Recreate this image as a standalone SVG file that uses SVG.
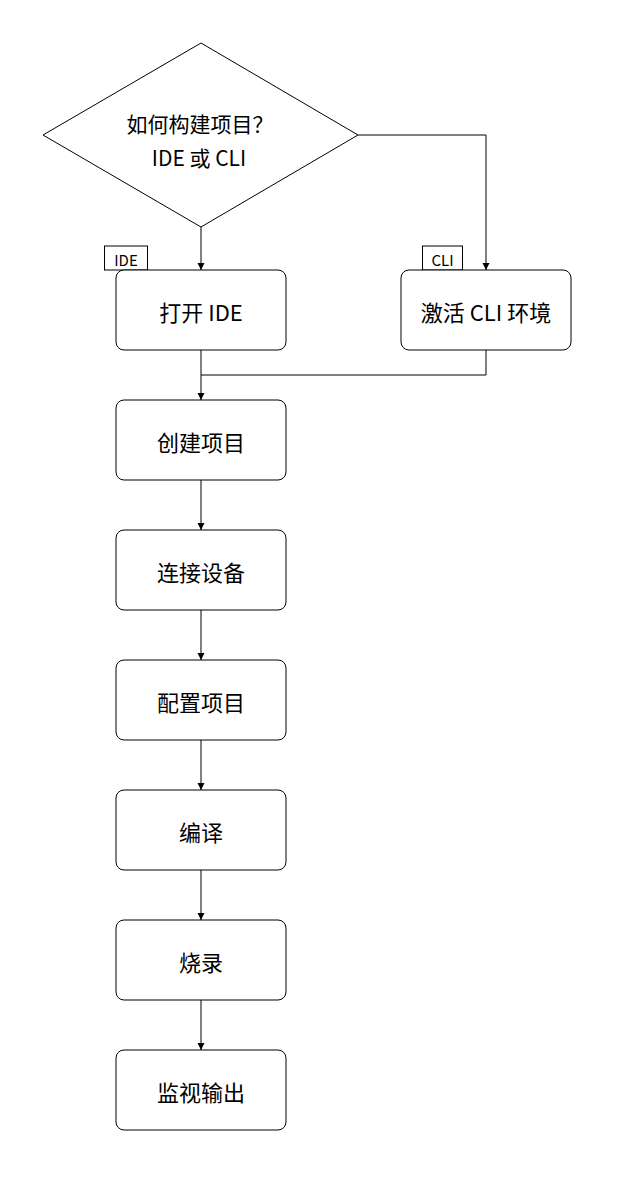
<svg xmlns="http://www.w3.org/2000/svg" width="620" height="1180" viewBox="0 0 620 1180">
<style>
.n{fill:#fff;stroke:#000;stroke-width:1}
.t{font-family:"Noto Sans CJK SC","Noto Sans",sans-serif;font-size:22px;fill:#000;text-anchor:middle;dominant-baseline:central}
.d{font-size:21px}
.l{font-family:"Noto Sans CJK SC","Noto Sans",sans-serif;font-size:15px;fill:#000;text-anchor:middle;dominant-baseline:central}
.e{fill:none;stroke:#000;stroke-width:1}
</style>
<defs>
<marker id="a" markerWidth="8" markerHeight="8" refX="7" refY="4" orient="auto" markerUnits="userSpaceOnUse">
<path d="M0,0.5 L7,4 L0,7.5 Z" fill="#000"/>
</marker>
</defs>
<rect width="620" height="1180" fill="#fff"/>
<g id="edges">
<path class="e" d="M201,227 V270" marker-end="url(#a)"/>
<path class="e" d="M358,135 H486 V270" marker-end="url(#a)"/>
<path class="e" d="M201,350 V400" marker-end="url(#a)"/>
<path class="e" d="M486,350 V375 H201"/>
<path class="e" d="M201,480 V530" marker-end="url(#a)"/>
<path class="e" d="M201,610 V660" marker-end="url(#a)"/>
<path class="e" d="M201,740 V790" marker-end="url(#a)"/>
<path class="e" d="M201,870 V920" marker-end="url(#a)"/>
<path class="e" d="M201,1000 V1050" marker-end="url(#a)"/>
<rect class="n" x="104.5" y="246" width="43" height="24"/>
<text class="l" x="126" y="259">IDE</text>
<rect class="n" x="422.5" y="246" width="40" height="24"/>
<text class="l" x="442.5" y="259">CLI</text>
</g>
<g id="decision">
<polygon class="n" points="201,43 358,135 201,227 43,135"/>
<text class="t d" x="200" y="123">如何构建项目？</text>
<text class="t d" x="199" y="157">IDE 或 CLI</text>
</g>
<g id="ide"><rect class="n" x="116" y="270" width="170" height="80" rx="8"/><text class="t" x="201" y="311">打开 IDE</text></g>
<g id="cli"><rect class="n" x="401" y="270" width="170" height="80" rx="8"/><text class="t" x="486" y="311">激活 CLI 环境</text></g>
<g id="create"><rect class="n" x="116" y="400" width="170" height="80" rx="8"/><text class="t" x="201" y="441">创建项目</text></g>
<g id="connect"><rect class="n" x="116" y="530" width="170" height="80" rx="8"/><text class="t" x="201" y="571">连接设备</text></g>
<g id="config"><rect class="n" x="116" y="660" width="170" height="80" rx="8"/><text class="t" x="201" y="701">配置项目</text></g>
<g id="build"><rect class="n" x="116" y="790" width="170" height="80" rx="8"/><text class="t" x="201" y="831">编译</text></g>
<g id="flash"><rect class="n" x="116" y="920" width="170" height="80" rx="8"/><text class="t" x="201" y="961">烧录</text></g>
<g id="monitor"><rect class="n" x="116" y="1050" width="170" height="80" rx="8"/><text class="t" x="201" y="1091">监视输出</text></g>
</svg>
